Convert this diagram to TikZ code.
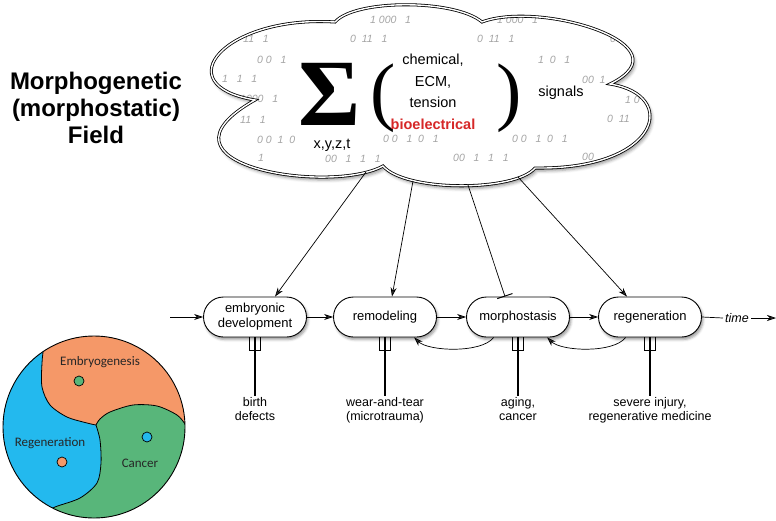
\documentclass[tikz,border=0pt]{standalone}
\usepackage{fontspec}
\setmainfont{Liberation Sans}
\newfontfamily\serifsig{Liberation Serif}
\newfontfamily\calib{Carlito}
\usetikzlibrary{arrows.meta,shapes.misc,shadows.blur,calc}
\definecolor{orng}{RGB}{245,152,104}
\definecolor{blu}{RGB}{35,185,238}
\definecolor{grn}{RGB}{88,182,122}
\definecolor{bred}{RGB}{214,40,40}
\definecolor{digit}{RGB}{165,165,165}
\tikzset{
  proc/.style={rounded rectangle, draw, line width=0.9pt, fill=white,
    minimum width=107pt, minimum height=40pt, inner xsep=2pt, align=center,
    font=\fontsize{13}{15}\selectfont,
    blur shadow={shadow xshift=1.5pt, shadow yshift=-2.5pt, shadow blur radius=2.5pt}},
  arr/.style={-{Stealth[length=9pt,width=6pt]}, line width=0.7pt},
  inh/.style={-{Bar[width=16pt,line width=1pt]}, line width=0.7pt},
  digits/.style={text=digit, font=\fontsize{10.5}{10.5}\selectfont\itshape, inner sep=0pt, anchor=west},
  lab/.style={align=center, font=\fontsize{12.5}{14.5}\selectfont, inner sep=1pt, anchor=north},
  stem/.style={line width=1.6pt},
  fork/.style={line width=1.1pt},
  bnd/.style={line width=0.8pt},
  dot/.style={draw=black, line width=0.7pt},
  clab/.style={font=\calib\fontsize{13}{13}\selectfont, text=black!85, inner sep=0pt}
}
\def\cloudpath{(255,100) .. controls (165,85) and (225,15) .. (335,22)
  .. controls (355,-1) and (455,-1) .. (482,22)
  .. controls (540,0) and (690,45) .. (610,84)
  .. controls (680,95) and (660,170) .. (535,168)
  .. controls (515,192) and (405,192) .. (383,166)
  .. controls (330,195) and (140,165) .. (255,100) -- cycle}
\begin{document}
\begin{tikzpicture}[x=1pt,y=-1pt]
\useasboundingbox (0,0) rectangle (776,520);

% title
\node[font=\bfseries\fontsize{24}{27}\selectfont, align=center] (title) at (96,108)
  {Morphogenetic\\(morphostatic)\\Field};

% cloud
\fill[white, blur shadow={shadow xshift=2pt, shadow yshift=-3pt, shadow blur radius=3pt}] \cloudpath;
\begin{scope}
\clip \cloudpath;
\node[digits] (d1) at (243,39) {11~~~1};
\node[digits] (d2) at (350,39) {0~~11~~~1};
\node[digits] (d3) at (370,20) {1~000~~~1};
\node[digits] (d4) at (257,60) {0~0~~~1};
\node[digits] (d5) at (222,79) {1~~~1~~~1};
\node[digits] (d6) at (240,99) {1000~~~1};
\node[digits] (d7) at (240,120) {11~~~1};
\node[digits] (d8) at (257,140) {0~0~~1~~0};
\node[digits] (d9) at (258,158) {1};
\node[digits] (d10) at (325,159) {00~~~1~~~1~~~1};
\node[digits] (d11) at (383,139) {0~0~~~1~~0~~~1};
\node[digits] (d12) at (477,39) {0~~11~~~1};
\node[digits] (d13) at (538,60) {1~~0~~~1};
\node[digits] (d14) at (582,80) {00~~1};
\node[digits] (d15) at (610,39) {0};
\node[digits] (d16) at (625,100) {1~0};
\node[digits] (d17) at (607,119) {0~~11};
\node[digits] (d18) at (512,139) {0~0~~~1~~0~~~1};
\node[digits] (d19) at (453,158) {00~~~1~~~1~~~1};
\node[digits] (d20) at (582,157) {00};
\node[digits] (d21) at (497,20) {1~000~~~1};
\end{scope}
\draw[line width=0.8pt, double=white, double distance=1.4pt] \cloudpath;

\node[font=\serifsig\bfseries\fontsize{95}{95}\selectfont, inner sep=0pt, text depth=0pt, anchor=base] (sig) at (330,125) {Σ};
\node[font=\serifsig\fontsize{76}{76}\selectfont, inner sep=0pt, anchor=base] (lp) at (383,116) {(};
\node[font=\serifsig\fontsize{76}{76}\selectfont, inner sep=0pt, anchor=base] (rp) at (509,116) {)};
\node[font=\fontsize{14.5}{21.5}\selectfont, align=center, inner sep=0pt] (sigtxt) at (433,92)
  {chemical,\\ECM,\\tension\\\textcolor{bred}{\bfseries bioelectrical}};
\node[font=\fontsize{14.5}{15}\selectfont, inner sep=0pt] (signals) at (561,93) {signals};
\node[font=\fontsize{14.5}{15}\selectfont, inner sep=0pt] (xyzt) at (332,145) {x,y,z,t};

% process row
\node[proc] (emb) at (255,317) {embryonic\\development};
\node[proc] (rem) at (385,317) {remodeling};
\node[proc] (mor) at (518,317) {morphostasis};
\node[proc] (reg) at (650,317) {regeneration};

\coordinate (start) at (170,317);
\draw[arr] (start) -- (emb.west);
\draw[arr] (emb.east) -- (rem.west);
\draw[arr] (rem.east) -- (mor.west);
\draw[arr] (mor.east) -- (reg.west);
\draw[arr] (mor.-140) .. controls +(-12,16) and +(14,14) .. (rem.-35);
\draw[arr] (reg.-140) .. controls +(-12,16) and +(14,14) .. (mor.-35);

\node[font=\itshape\fontsize{12.5}{14}\selectfont, inner sep=2pt] (time) at (737,318) {time};
\draw[line width=0.7pt] (reg.east) -- (time.west);
\coordinate (tend) at (776,318);
\draw[arr] (time.east) -- (tend);

% cloud connectors
\coordinate (c1) at (366,172);
\coordinate (c2) at (413,181);
\coordinate (c3) at (468,185);
\coordinate (c4) at (518,177);
\draw[arr] (c1) -- ($(emb.north)+(20,0)$);
\draw[arr] (c2) -- ($(rem.north)+(7,0)$);
\draw[inh] (c3) -- ($(mor.north)+(-13,0)$);
\draw[arr] (c4) -- ($(reg.north)+(-23,0)$);

% outcomes
\node[lab] (bd) at (255,396) {birth\\defects};
\node[lab] (wt) at (385,396) {wear-and-tear\\(microtrauma)};
\node[lab] (ac) at (518,396) {aging,\\cancer};
\node[lab] (si) at (650,396) {severe injury,\\regenerative medicine};
\foreach \n/\m in {emb/bd,rem/wt,mor/ac,reg/si}{
  \draw[fork] ($(\n.south)+(-5.5,0)$) -- ++(0,13) -- ++(11,0) -- ++(0,-13);
  \draw[stem] (\n.south) -- (\m.north);
}

% circle diagram
\begin{scope}
\clip (94,427) circle (91);
\fill[orng] (94,427) circle (91);
\fill[blu] (47,330) -- plot[smooth] coordinates {(47,330) (44,345) (42,363) (42,387) (50,405) (67,417) (87,423) (96,425)}
  -- plot[smooth] coordinates {(96,425) (100,440) (101,463) (97,483) (80,498) (55,507) (40,515)}
  -- (40,530) -- (-10,530) -- (-10,320) -- (40,320) -- cycle;
\fill[grn] (96,425) -- plot[smooth] coordinates {(96,425) (100,419) (110,412) (133,405) (157,406) (177,415) (186,425) (195,435)}
  -- (200,435) -- (200,530) -- (40,530) -- (40,515)
  -- plot[smooth] coordinates {(40,515) (55,507) (80,498) (97,483) (101,463) (100,440) (96,425)} -- cycle;
\draw[bnd] plot[smooth] coordinates {(47,330) (44,345) (42,363) (42,387) (50,405) (67,417) (87,423) (96,425)};
\draw[bnd] plot[smooth] coordinates {(96,425) (100,440) (101,463) (97,483) (80,498) (55,507) (40,515)};
\draw[bnd] plot[smooth] coordinates {(96,425) (100,419) (110,412) (133,405) (157,406) (177,415) (186,425) (195,435)};
\end{scope}
\draw[line width=0.9pt] (94,427) circle (91);
\filldraw[dot, fill=grn] (79,381) circle (5);
\filldraw[dot, fill=blu] (147,437) circle (5);
\filldraw[dot, fill=orng] (62,462) circle (5);
\node[clab] (le) at (100,362) {Embryogenesis};
\node[clab] (lr) at (50,443) {Regeneration};
\node[clab] (lc) at (140,463) {Cancer};
\end{tikzpicture}
\end{document}
